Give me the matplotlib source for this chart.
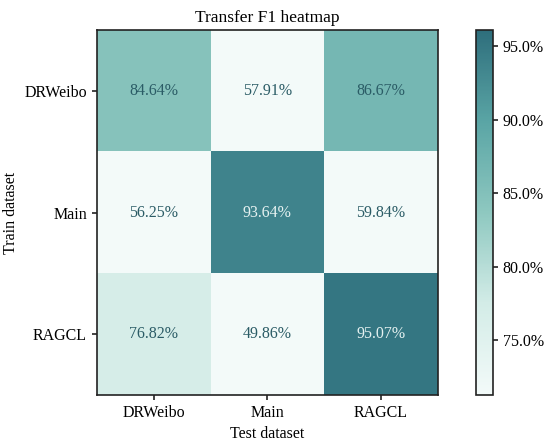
import numpy as np
import matplotlib.pyplot as plt
from matplotlib.colors import LinearSegmentedColormap

plt.rcParams['font.family'] = ['Liberation Serif', 'DejaVu Serif']

train_sets = ['DRWeibo', 'Main', 'RAGCL']
test_sets = ['DRWeibo', 'Main', 'RAGCL']
f1 = np.array([
    [84.64, 57.91, 86.67],
    [56.25, 93.64, 59.84],
    [76.82, 49.86, 95.07],
])

cmap = LinearSegmentedColormap.from_list(
    'teal', ['#f3faf9', '#d3ece7', '#8ec8c0', '#5aa5a5', '#2e6e7c'])
vmin, vmax = 71.25, 96.1

fig = plt.figure(figsize=(5.5, 4.43), dpi=100)
ax = fig.add_axes([0.176, 0.108, 0.62, 0.824])
cax = fig.add_axes([0.865, 0.108, 0.031, 0.824])

im = ax.imshow(f1, cmap=cmap, vmin=vmin, vmax=vmax, aspect='auto')
for i in range(3):
    for j in range(3):
        v = f1[i, j]
        c = '#e6f2f1' if v > 90 else '#2b5c66'
        ax.text(j, i, f'{v:.2f}%', ha='center', va='center', color=c, fontsize=11.5)

ax.set_xticks(range(3))
ax.set_xticklabels(test_sets, fontsize=11.5)
ax.set_yticks(range(3))
ax.set_yticklabels(train_sets, fontsize=11.5)
ax.set_xlabel('Test dataset', fontsize=11.5)
ax.set_ylabel('Train dataset', fontsize=11.5)
ax.set_title('Transfer F1 heatmap', fontsize=12.5)
for s in ax.spines.values():
    s.set_linewidth(1.2)
    s.set_color('#222222')
ax.tick_params(width=1.2, color='#222222')

cb = fig.colorbar(im, cax=cax)
cb.set_ticks([75, 80, 85, 90, 95])
cb.set_ticklabels([f'{t:.1f}%' for t in [75, 80, 85, 90, 95]])
cb.ax.tick_params(labelsize=11.5, width=1.2, color='#222222')
cb.outline.set_linewidth(1.2)
cb.outline.set_edgecolor('#222222')

fig.savefig('out.png', dpi=100)
